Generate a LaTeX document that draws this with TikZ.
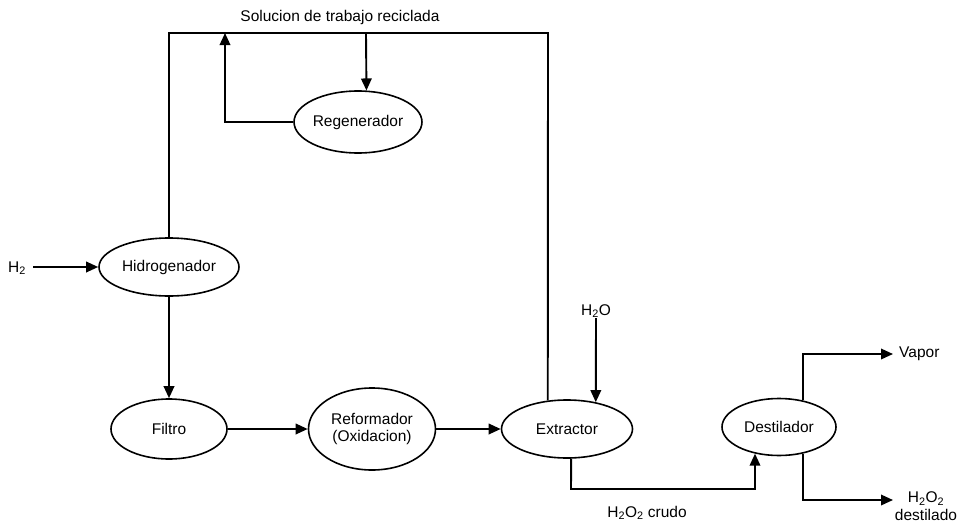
\documentclass[tikz,border=0pt]{standalone}
\usepackage{fontspec}
\setmainfont{Liberation Sans}
\usetikzlibrary{shapes.geometric,arrows.meta}
\begin{document}
\begin{tikzpicture}[x=1pt,y=-1pt,
  every node/.style={font=\fontsize{15.5}{17.5}\selectfont},
  unit/.style={ellipse,draw,line width=1.6pt,inner sep=0pt,align=center},
  flow/.style={line width=1.9pt},
  arr/.style={flow,-{Triangle[length=12pt,width=10.5pt]}},
  lbl/.style={inner sep=0pt,align=center}]
\useasboundingbox (0,0) rectangle (959,525);
% units
\node[unit,minimum width=127pt,minimum height=62pt] (regen) at (358,122) {Regenerador};
\node[unit,minimum width=140pt,minimum height=58pt] (hidro) at (169,267) {Hidrogenador};
\node[unit,minimum width=116pt,minimum height=60pt] (filtro) at (169,429) {Filtro};
\node[unit,minimum width=127pt,minimum height=82pt] (reform) at (372,429) {Reformador\\(Oxidacion)};
\node[unit,minimum width=131pt,minimum height=58pt] (extr) at (567,429) {Extractor};
\node[unit,minimum width=114pt,minimum height=57pt] (dest) at (779,427) {Destilador};
% labels
\node[lbl] (title) at (340,17) {Solucion de trabajo reciclada};
\node[lbl] (h2) at (17,268) {H\textsubscript{2}};
\node[lbl,anchor=south] (h2o) at (596,318) {H\textsubscript{2}O};
\node[lbl,anchor=west] (vapor) at (899,354) {Vapor};
\node[lbl] (dist) at (926,506) {H\textsubscript{2}O\textsubscript{2}\\destilado};
\node[lbl] (crudo) at (647,513) {H\textsubscript{2}O\textsubscript{2} crudo};
% coordinates
\coordinate (h2e) at (33,267);
\coordinate (tl) at (169,33);
\coordinate (tr) at (548,33);
\coordinate (tup) at (225,33);
\coordinate (tdown) at (366,33);
\coordinate (rleft) at (225,122);
\coordinate (cr1) at (571,489);
\coordinate (vaporin) at (893,354);
\coordinate (distin) at (893,500);
% connectors
\draw[arr] (h2e) -- (hidro.west);
\draw[flow] (hidro.north) -- (tl) -- (tr) -- (extr.124.4);
\draw[arr] (tdown) -- (regen.75.5);
\draw[arr] (regen.west) -- (rleft) -- (tup);
\draw[arr] (hidro.south) -- (filtro.north);
\draw[arr] (filtro.east) -- (reform.west);
\draw[arr] (reform.east) -- (extr.west);
\draw[arr] (h2o.south) -- (extr.43.1);
\draw[arr] (extr.-82) -- (cr1) -| (dest.-132.8);
\draw[arr] (dest.48.6) |- (vaporin);
\draw[arr] (dest.-48.6) |- (distin);
\end{tikzpicture}
\end{document}
